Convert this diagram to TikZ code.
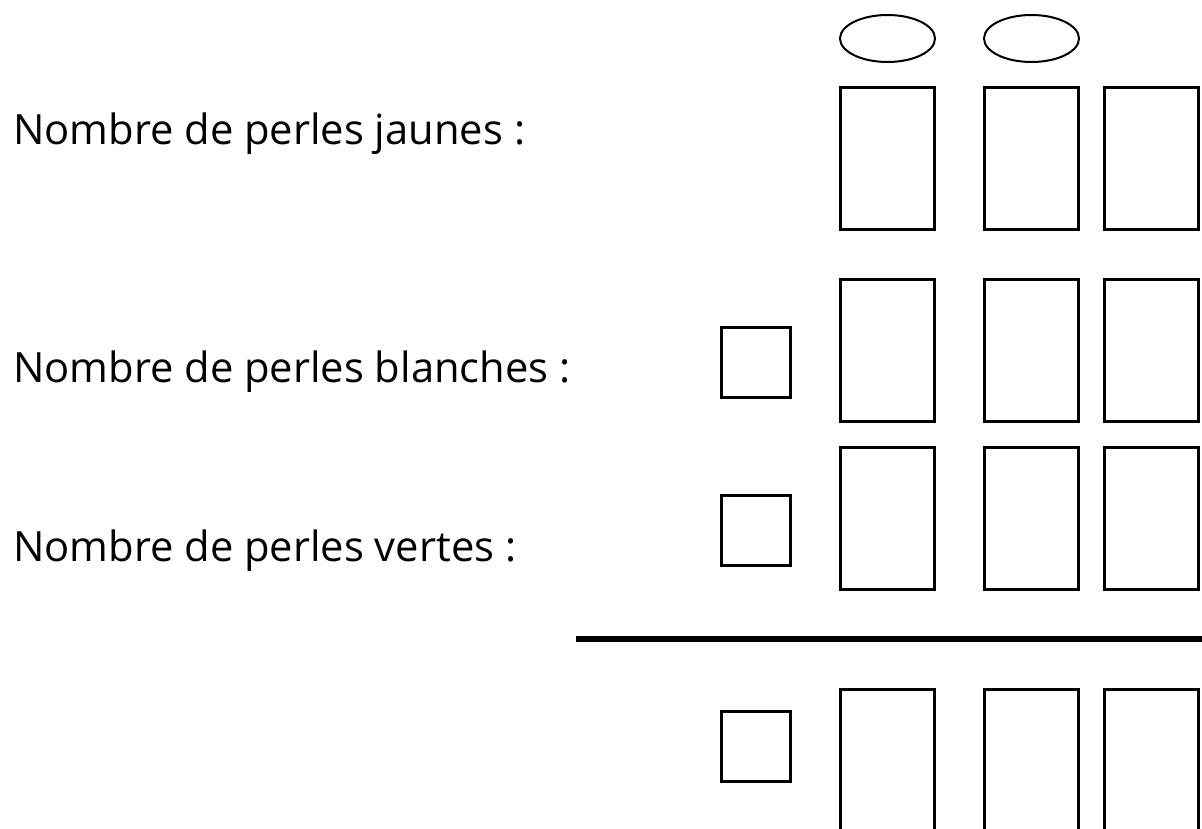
\documentclass[tikz,border=0pt]{standalone}
\usepackage{fontspec}
\setmainfont{Open Sans}
\usetikzlibrary{shapes.geometric}

\tikzset{
  case/.style={draw, line width=3pt, minimum width=94pt, minimum height=142pt, inner sep=0pt},
  petite/.style={draw, line width=3pt, minimum width=69pt, minimum height=70pt, inner sep=0pt},
  bulle/.style={draw, ellipse, line width=2pt, minimum width=95pt, minimum height=47pt, inner sep=0pt},
  texte/.style={anchor=base west, inner sep=0pt, font=\fontsize{41.7}{50}\selectfont},
}

\begin{document}
\begin{tikzpicture}[x=1pt,y=-1pt]
  \fill[white] (0,0) rectangle (1202,829);
  \useasboundingbox (0,0) rectangle (1202,829);

  \node[texte] (jaunes) at (13,145) {Nombre de perles jaunes :};
  \node[texte] (blanches) at (13,382) {Nombre de perles blanches :};
  \node[texte] (vertes) at (13,561) {Nombre de perles vertes :};

  % centaines, dizaines, unites
  \foreach \col/\x in {a/887.5,b/1031.5,c/1151.5}{
    \foreach \row/\y in {1/158.5,2/350.5,3/518.5,4/760}{
      \node[case] (\col\row) at (\x,\y) {};
    }
  }
  \node[bulle] (bullea) at (887.5,38.5) {};
  \node[bulle] (bulleb) at (1031.5,38.5) {};

  % retenues
  \foreach \row/\y in {2/362.5,3/530.5,4/746.5}
    \node[petite] (p\row) at (756,\y) {};

  \coordinate (traitg) at (576,639);
  \coordinate (traitd) at (1202,639);
  \draw[line width=6pt] (traitg) -- (traitd);
\end{tikzpicture}
\end{document}
